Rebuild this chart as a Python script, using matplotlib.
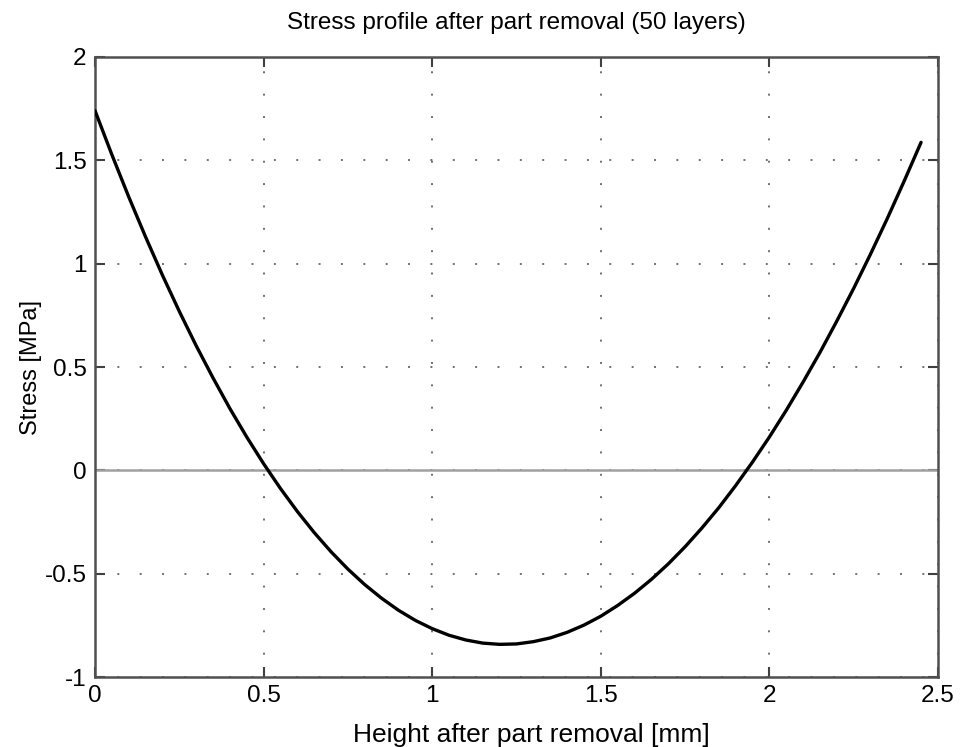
import matplotlib
matplotlib.use("Agg")
import matplotlib.pyplot as plt

plt.rcParams['font.family'] = ['Liberation Sans', 'DejaVu Sans']

height = [0.0, 0.05, 0.1, 0.15, 0.2, 0.25, 0.3, 0.35, 0.4, 0.45,
          0.5, 0.55, 0.6, 0.65, 0.7, 0.75, 0.8, 0.85, 0.9, 0.95,
          1.0, 1.05, 1.1, 1.15, 1.2, 1.25, 1.3, 1.35, 1.4, 1.45,
          1.5, 1.55, 1.6, 1.65, 1.7, 1.75, 1.8, 1.85, 1.9, 1.95,
          2.0, 2.05, 2.1, 2.15, 2.2, 2.25, 2.3, 2.35, 2.4, 2.45]
stress = [1.740, 1.527, 1.323, 1.129, 0.944, 0.769, 0.603, 0.447, 0.299, 0.161,
          0.032, -0.088, -0.199, -0.301, -0.394, -0.478, -0.553, -0.619, -0.677, -0.726,
          -0.766, -0.798, -0.821, -0.836, -0.842, -0.840, -0.829, -0.811, -0.784, -0.749,
          -0.706, -0.654, -0.595, -0.528, -0.453, -0.370, -0.279, -0.181, -0.074, 0.040,
          0.161, 0.290, 0.427, 0.570, 0.722, 0.880, 1.046, 1.219, 1.400, 1.587]

xticks = [0, 0.5, 1, 1.5, 2, 2.5]
xticklabels = ['0', '0.5', '1', '1.5', '2', '2.5']
yticks = [-1, -0.5, 0, 0.5, 1, 1.5, 2]
yticklabels = ['-1', '-0.5', '0', '0.5', '1', '1.5', '2']

fig = plt.figure(figsize=(9.6, 7.47), dpi=100)
ax = fig.add_axes([0.099, 0.0937, 0.878, 0.83])

ax.axhline(0, color='#a0a0a0', lw=1.8, zorder=2)
ax.plot(height, stress, color='black', lw=2.4, zorder=3,
        solid_joinstyle='round', solid_capstyle='round')

ax.set_xlim(0, 2.5)
ax.set_ylim(-1, 2)
ax.set_xticks(xticks)
ax.set_xticklabels(xticklabels)
ax.set_yticks(yticks)
ax.set_yticklabels(yticklabels)

ax.grid(True, color='#707070', lw=1.4, linestyle=(0, (1, 10.5)))
ax.tick_params(direction='in', length=7, width=1.5, color='#404040',
               labelsize=17.5, top=True, right=True, pad=6)
for s in ax.spines.values():
    s.set_color('#505050')
    s.set_linewidth(1.8)

ax.set_title('Stress profile after part removal (50 layers)', fontsize=17.5, pad=20)
ax.set_xlabel('Height after part removal [mm]', fontsize=19)
ax.xaxis.set_label_coords(0.518, -0.074)
ax.set_ylabel('Stress [MPa]', fontsize=17, labelpad=2)

fig.savefig('out.png', dpi=100)
